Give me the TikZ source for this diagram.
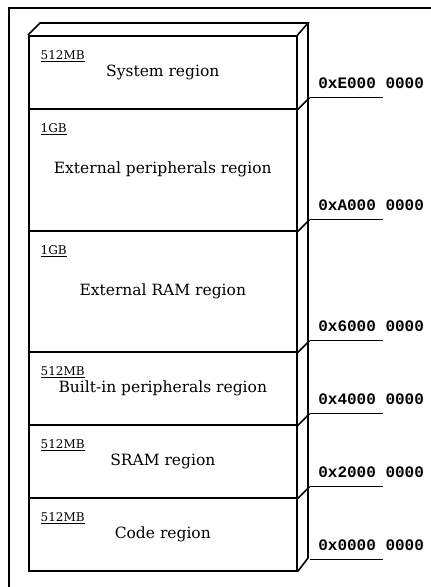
\documentclass[tikz,border=0pt]{standalone}
\usepackage{fontspec}
\setmainfont{DejaVu Serif}
\newfontfamily\addrfont{Liberation Mono Bold}
\begin{document}
\begin{tikzpicture}[x=1pt,y=-1pt,
  edge/.style={line width=1.6pt, line join=miter},
  frameline/.style={line width=2.4pt},
  region/.style={draw, line width=1.6pt, anchor=north west, inner sep=0pt, minimum width=268pt},
  regtext/.style={font=\fontsize{15.5}{18}\selectfont, inner sep=0pt},
  sizetext/.style={font=\fontsize{12}{14}\selectfont, inner sep=0pt, anchor=north west},
  addrtext/.style={font=\addrfont\fontsize{16}{18}\selectfont, inner sep=0pt, anchor=base west},
  addrline/.style={line width=1.6pt}]
\useasboundingbox (0,0) rectangle (431,587);
% frame
\draw[frameline] (9,587) -- (9,8) -- (431,8);
% regions (front faces)
\node[region, minimum height=73pt]  (rsys)  at (28,35)  {};
\node[region, minimum height=122pt] (rext)  at (28,108) {};
\node[region, minimum height=121pt] (rram)  at (28,230) {};
\node[region, minimum height=73pt]  (rbip)  at (28,351) {};
\node[region, minimum height=73pt]  (rsram) at (28,424) {};
\node[region, minimum height=73pt]  (rcode) at (28,497) {};
% top and side faces
\draw[edge] (rsys.north west) -- ++(12,-12) coordinate (tl) -- (308,23) coordinate (tr) -- (rsys.north east);
\draw[edge] (tr) -- (308,558) coordinate (br) -- (rcode.south east);
\foreach \n in {sys,ext,ram,bip,sram}
  \draw[edge] (r\n.south east) -- ++(12,-12);
% texts
\node[regtext] (tsys)  at (rsys.center)  {System region};
\node[regtext] (text)  at (rext.center)  {External peripherals region};
\node[regtext] (tram)  at (rram.center)  {External RAM region};
\node[regtext] (tbip)  at (rbip.center)  {Built-in peripherals region};
\node[regtext] (tsram) at (rsram.center) {SRAM region};
\node[regtext] (tcode) at (rcode.center) {Code region};
\foreach \n/\s in {sys/512MB,ext/1GB,ram/1GB,bip/512MB,sram/512MB,code/512MB}
  \node[sizetext] (size\n) at ([xshift=12.5pt,yshift=-15.5pt]r\n.north west) {\underline{\s}};
% address lines
\foreach \n/\a in {sys/0xE000 0000,ext/0xA000 0000,ram/0x6000 0000,bip/0x4000 0000,sram/0x2000 0000,code/0x0000 0000}{
  \coordinate (afrom\n) at ([xshift=12pt,yshift=12pt]r\n.south east);
  \coordinate (ato\n) at ([xshift=85pt,yshift=12pt]r\n.south east);
  \draw[addrline] (afrom\n) -- (ato\n);
  \node[addrtext] (addr\n) at ([xshift=8.5pt,yshift=9pt]afrom\n) {\a};
}
\end{tikzpicture}
\end{document}
